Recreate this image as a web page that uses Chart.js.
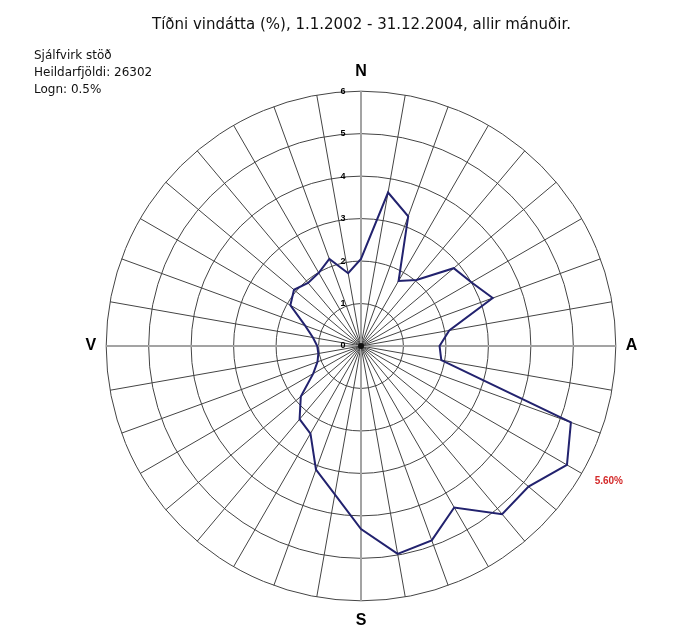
<!DOCTYPE html>
<html>
<head>
<meta charset="utf-8">
<script src="https://cdn.jsdelivr.net/npm/chart.js@4/dist/chart.umd.min.js"></script>
<style>
  html, body { margin: 0; padding: 0; background: #fff; }
  #wrap { width: 681px; height: 639px; }
</style>
</head>
<body>
<div id="wrap"><canvas id="rose" width="681" height="639"></canvas></div>
<script>
// Tíðni vindátta, 36 stefnur (10° bil), frá norðri réttsælis
const directions = [];
for (let d = 0; d < 360; d += 10) directions.push(d);
const cardinalLabels = { 0: 'N', 90: 'A', 180: 'S', 270: 'V' };
const labels = directions.map(d => cardinalLabels[d] || '');

const frequency = [
  2.05, 3.67, 3.25, 1.77, 2.03, 2.85, 3.00, 3.30, 2.11,
  1.85, 1.92, 5.26, 5.60, 5.15, 5.17, 4.39, 4.87, 4.97,
  4.31, 3.55, 3.10, 2.38, 2.25, 1.85, 1.30, 1.09, 1.02,
  1.03, 1.15, 1.40, 1.92, 2.06, 1.94, 1.99, 2.18, 1.74
];
const tickValues = [0, 1, 2, 3, 4, 5, 6];
const infoLines = ['Sjálfvirk stöð', 'Heildarfjöldi: 26302', 'Logn: 0.5%'];

// Texti sem Chart.js teiknar ekki sjálft: kvarðatölur, upplýsingar og hámark
const extraText = {
  id: 'extraText',
  afterDraw(chart) {
    const ctx = chart.ctx;
    const r = chart.scales.r;
    ctx.save();
    // dökki depillinn í miðjunni
    ctx.fillStyle = '#111';
    ctx.beginPath();
    ctx.arc(r.xCenter, r.yCenter, 3, 0, Math.PI * 2);
    ctx.fill();

    ctx.fillStyle = '#000';
    ctx.font = 'bold 9px "Liberation Sans", Arial';
    ctx.textAlign = 'center';
    ctx.textBaseline = 'middle';
    tickValues.forEach(v => {
      const y = r.yCenter - r.getDistanceFromCenterForValue(v);
      ctx.fillText(String(v), r.xCenter - 18, y);
    });

    ctx.font = '12px "DejaVu Sans"';
    ctx.textAlign = 'left';
    ctx.fillStyle = '#111';
    infoLines.forEach((t, i) => ctx.fillText(t, 34, 56 + i * 17));

    const max = Math.max(...frequency);
    const idx = frequency.indexOf(max);
    const p = r.getPointPosition(idx, r.drawingArea + 15);
    ctx.font = 'bold 10px "Liberation Sans", Arial';
    ctx.fillStyle = '#d42a2a';
    ctx.fillText(max.toFixed(2) + '%', p.x, p.y);
    ctx.restore();
  }
};

const ctx = document.getElementById('rose').getContext('2d');
new Chart(ctx, {
  type: 'radar',
  data: {
    labels: labels,
    datasets: [{
      label: 'Tíðni',
      data: frequency,
      borderColor: '#22226e',
      borderWidth: 2,
      fill: false,
      pointRadius: 0,
      tension: 0
    }]
  },
  options: {
    responsive: false,
    animation: false,
    layout: { padding: { left: 42, right: 0, top: 0, bottom: 8 } },
    plugins: {
      legend: { display: false },
      tooltip: { enabled: false },
      title: {
        display: true,
        text: 'Tíðni vindátta (%), 1.1.2002 - 31.12.2004, allir mánuðir.',
        color: '#111',
        font: { family: '"DejaVu Sans"', size: 15, weight: 'normal' },
        padding: { top: 16, bottom: 29 }
      }
    },
    scales: {
      r: {
        min: 0,
        max: 6,
        ticks: { stepSize: 1, display: false },
        grid: { circular: true, color: '#444', lineWidth: 1 },
        angleLines: {
          color: c => (c.index % 9 === 0 ? '#a3a3a3' : '#444'),
          lineWidth: c => (c.index % 9 === 0 ? 2 : 1)
        },
        pointLabels: {
          color: '#000',
          padding: 10,
          font: { family: '"Liberation Sans", Arial', size: 16, weight: 'bold' }
        }
      }
    }
  },
  plugins: [extraText]
});
</script>
</body>
</html>
